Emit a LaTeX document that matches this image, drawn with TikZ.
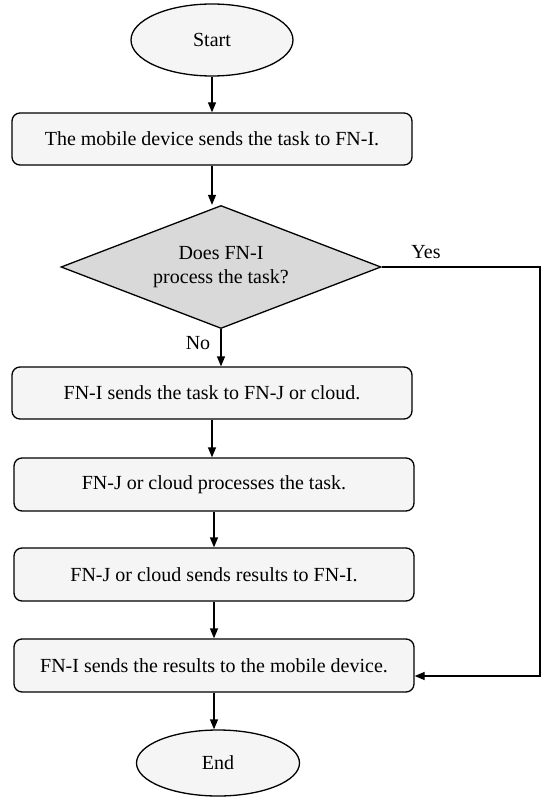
\documentclass[tikz,border=0pt]{standalone}
\usepackage{fontspec}
\setmainfont{Liberation Serif}
\usetikzlibrary{shapes.geometric,arrows.meta}
\definecolor{boxfill}{HTML}{F5F5F5}
\definecolor{decfill}{HTML}{D9D9D9}
\begin{document}
\begin{tikzpicture}[x=1pt,y=-1pt,
  font=\fontsize{20}{24}\selectfont,
  every path/.style={line width=1.3pt},
  term/.style={ellipse,draw,fill=boxfill,inner sep=0pt,minimum width=162pt,minimum height=72pt},
  stepbox/.style={rectangle,draw,fill=boxfill,rounded corners=8pt,inner sep=0pt,minimum width=400pt,minimum height=53pt},
  decide/.style={diamond,draw,fill=decfill,inner sep=0pt,aspect=2.6,minimum width=320pt,minimum height=123pt,align=center},
  arr/.style={-{Triangle[length=10pt,width=8pt]}},
  lbl/.style={inner sep=0pt}
]
\useasboundingbox (0,0) rectangle (546,797);
\node[term] (start) at (212,40) {Start};
\node[stepbox,minimum height=52pt] (b1) at (212,139) {The mobile device sends the task to FN-I.};
\node[decide] (dec) at (221,267) {Does FN-I\\process the task?};
\node[stepbox,minimum height=52pt] (b2) at (212,393) {FN-I sends the task to FN-J or cloud.};
\node[stepbox] (b3) at (214,484.5) {FN-J or cloud processes the task.};
\node[stepbox] (b4) at (214,574.5) {FN-J or cloud sends results to FN-I.};
\node[stepbox] (b5) at (214,665.5) {FN-I sends the results to the mobile device.};
\node[term,minimum width=163pt,minimum height=66pt] (end) at (218,763) {End};
\coordinate (corner) at (540,676);
\node[lbl] (yes) at (426,252) {Yes};
\node[lbl] (no) at (198,343) {No};
\draw[arr] (start) -- (start |- b1.north);
\draw[arr] (b1.south) -- (b1.south |- dec.north);
\draw[arr] (dec.south) -- (dec.south |- b2.north);
\draw[arr] (b2) -- (b2 |- b3.north);
\draw[arr] (b3) -- (b3 |- b4.north);
\draw[arr] (b4) -- (b4 |- b5.north);
\draw[arr] (b5.south) -- (b5.south |- end.north);
\draw[arr] (dec.east) -| (corner) -- (b5.east |- corner);
\end{tikzpicture}
\end{document}
